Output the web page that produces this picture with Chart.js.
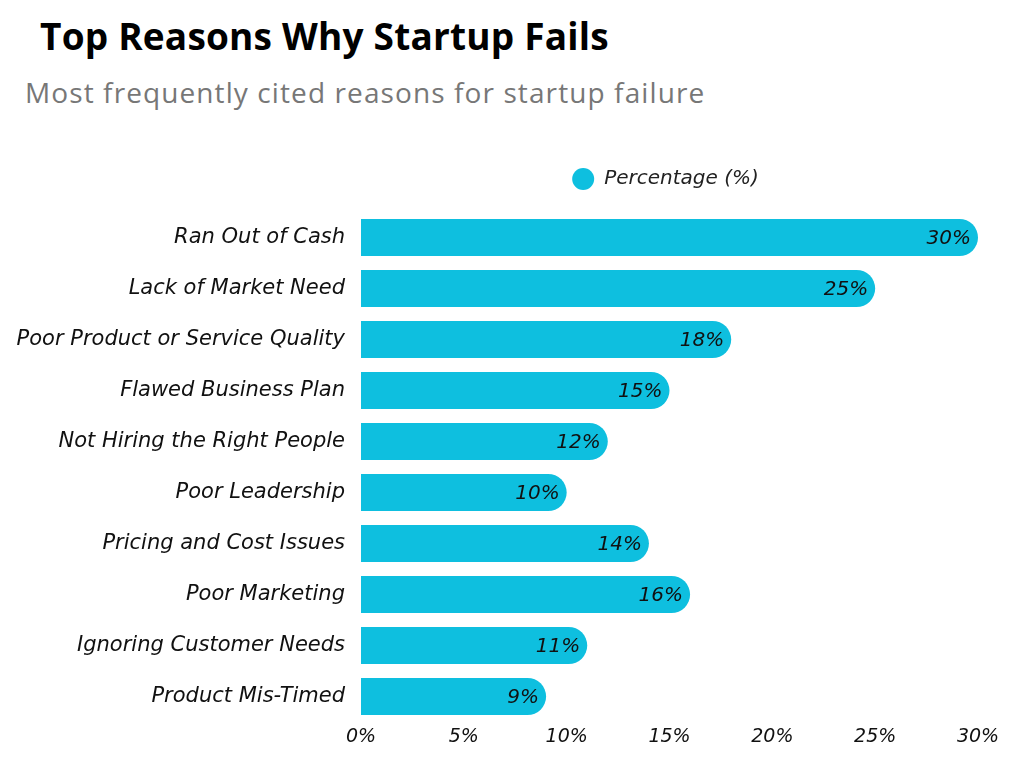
<!DOCTYPE html>
<html lang="en">
<head>
    <meta charset="UTF-8" />
    <title>Top Reasons Why Startup Fails</title>
    <script src="https://cdn.jsdelivr.net/npm/chart.js"></script>
    <style>
        body { margin: 0; background: #fff; width: 1024px; height: 768px; overflow: hidden; position: relative; }
        .titulo { position: absolute; left: 40px; top: 10px; margin: 0; font: bold 37px 'Open Sans', sans-serif; color: #000; letter-spacing: 0.2px; }
        .subtitulo { position: absolute; left: 25px; top: 73px; margin: 0; font: normal 28px 'Open Sans', sans-serif; color: #777; letter-spacing: 1.1px; }
        .grafico { position: absolute; left: 0; top: 140px; width: 1024px; height: 628px; }
    </style>
</head>
<body>
    <h1 class="titulo">Top Reasons Why Startup Fails</h1>
    <h2 class="subtitulo">Most frequently cited reasons for startup failure</h2>
    <div class="grafico">
        <canvas id="myChart"></canvas>
    </div>
</body>
</html>
<script>
    // dados do grafico
    var reasons = [
        "Ran Out of Cash",
        "Lack of Market Need",
        "Poor Product or Service Quality",
        "Flawed Business Plan",
        "Not Hiring the Right People",
        "Poor Leadership",
        "Pricing and Cost Issues",
        "Poor Marketing",
        "Ignoring Customer Needs",
        "Product Mis-Timed"
    ];
    var percentages = [30, 25, 18, 15, 12, 10, 14, 16, 11, 9];
    var seriesLabel = "Percentage (%)";
    var xTicks = [0, 5, 10, 15, 20, 25, 30];

    var familia = "'DejaVu Sans', sans-serif";
    var fonteItalica = { family: familia, size: 21, style: "italic" };
    var corBarra = "#0EBFDF";

    // rotulos de valor dentro da barra
    const valorPlugin = {
        id: "valorPlugin",
        afterDatasetsDraw(chart) {
            const ctx = chart.ctx;
            const meta = chart.getDatasetMeta(0);
            ctx.save();
            ctx.font = "italic 20px " + familia;
            ctx.fillStyle = "#111";
            ctx.textAlign = "right";
            ctx.textBaseline = "middle";
            meta.data.forEach((bar, i) => {
                ctx.fillText(percentages[i] + "%", bar.x - 7, bar.y + 1);
            });
            ctx.restore();
        }
    };

    // legenda centralizada sobre a area do grafico
    const legendaPlugin = {
        id: "legendaPlugin",
        afterDraw(chart) {
            const ctx = chart.ctx;
            const area = chart.chartArea;
            ctx.save();
            ctx.font = "italic 20px " + familia;
            const w = ctx.measureText(seriesLabel).width;
            const total = 22 + 10 + w;
            const x0 = (area.left + area.right) / 2 - total / 2 - 4;
            const y = 39;
            ctx.fillStyle = corBarra;
            ctx.beginPath();
            ctx.arc(x0 + 11, y, 11, 0, Math.PI * 2);
            ctx.fill();
            ctx.fillStyle = "#222";
            ctx.textBaseline = "middle";
            ctx.fillText(seriesLabel, x0 + 32, y);
            ctx.restore();
        }
    };

    const ctx = document.getElementById("myChart");
    new Chart(ctx, {
        type: "bar",
        data: {
            labels: reasons,
            datasets: [
                {
                    label: seriesLabel,
                    data: percentages,
                    backgroundColor: corBarra,
                    borderRadius: 20,
                    borderSkipped: "start",
                    barPercentage: 0.73,
                    categoryPercentage: 1
                }
            ]
        },
        options: {
            indexAxis: "y",
            responsive: true,
            maintainAspectRatio: false,
            animation: false,
            layout: { padding: { top: 72, right: 46, bottom: 0, left: 0 } },
            plugins: {
                legend: { display: false },
                tooltip: { enabled: false }
            },
            scales: {
                x: {
                    min: 0,
                    max: 30,
                    afterBuildTicks: (scale) => {
                        scale.ticks = xTicks.map((v) => ({ value: v }));
                    },
                    afterFit: (scale) => { scale.height = 46; },
                    grid: { display: false, drawTicks: false },
                    border: { display: false },
                    ticks: {
                        color: "#111",
                        font: { family: familia, size: 19, style: "italic" },
                        padding: 4,
                        maxRotation: 0,
                        callback: (v) => v + "%"
                    }
                },
                y: {
                    afterFit: (scale) => { scale.width = 361; },
                    grid: { display: false, drawTicks: false },
                    border: { display: false },
                    ticks: {
                        color: "#111",
                        font: fonteItalica,
                        padding: 16
                    }
                }
            }
        },
        plugins: [valorPlugin, legendaPlugin]
    });
</script>
